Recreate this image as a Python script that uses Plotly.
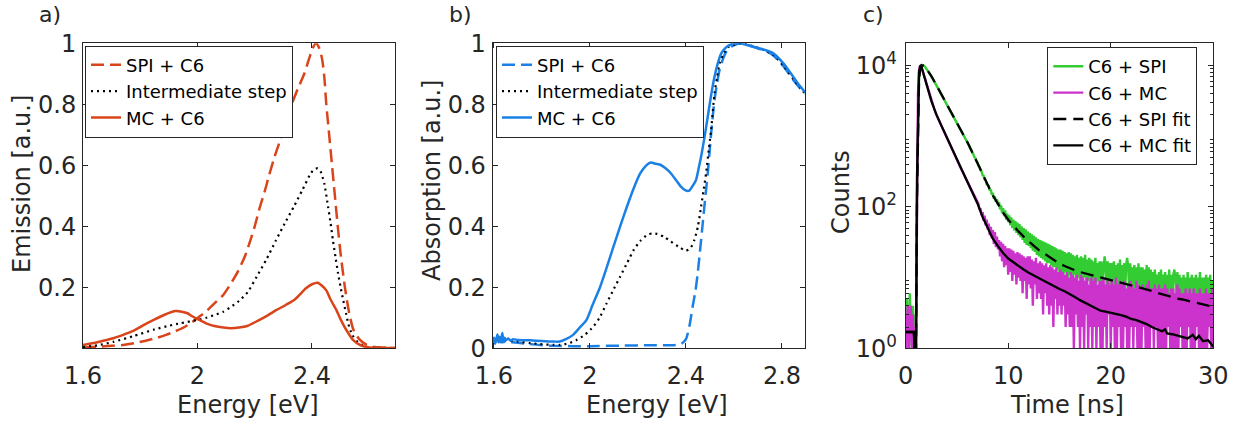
import plotly.graph_objects as go
import numpy as np

# ---------------- Panel a: emission ----------------
a_spi_E = [1.60, 1.65, 1.70, 1.74, 1.78, 1.82, 1.86, 1.89, 1.92, 1.953, 1.98, 2.0, 2.035, 2.06, 2.09,
           2.115, 2.14, 2.165, 2.185, 2.2, 2.217, 2.235, 2.251, 2.27, 2.288, 2.305, 2.325, 2.35, 2.373,
           2.39, 2.403, 2.414, 2.425, 2.435, 2.443, 2.45, 2.46, 2.47, 2.48, 2.49, 2.5, 2.515, 2.53,
           2.545, 2.565, 2.59, 2.62, 2.69]
a_spi_v = [0.003, 0.005, 0.008, 0.011, 0.017, 0.025, 0.035, 0.044, 0.055, 0.069, 0.085, 0.099, 0.125,
           0.148, 0.175, 0.21, 0.25, 0.30, 0.355, 0.40, 0.46, 0.515, 0.57, 0.63, 0.68, 0.735, 0.79, 0.85,
           0.90, 0.95, 0.985, 1.0, 0.985, 0.95, 0.89, 0.80, 0.70, 0.60, 0.50, 0.40, 0.31, 0.20, 0.115,
           0.06, 0.03, 0.012, 0.004, 0.001]

a_int_E = [1.60, 1.65, 1.706, 1.776, 1.85, 1.90, 1.94, 2.0, 2.03, 2.059, 2.09, 2.117, 2.145, 2.176,
           2.207, 2.24, 2.272, 2.305, 2.337, 2.367, 2.396, 2.41, 2.42, 2.43, 2.443, 2.456, 2.465, 2.473,
           2.482, 2.491, 2.5, 2.509, 2.52, 2.527, 2.54, 2.56, 2.58, 2.6, 2.69]
a_int_v = [0.004, 0.01, 0.021, 0.04, 0.062, 0.074, 0.082, 0.093, 0.10, 0.109, 0.12, 0.136, 0.155, 0.185,
           0.235, 0.29, 0.35, 0.41, 0.465, 0.52, 0.574, 0.588, 0.59, 0.58, 0.54, 0.465, 0.41, 0.355,
           0.30, 0.246, 0.20, 0.158, 0.11, 0.08, 0.045, 0.02, 0.008, 0.003, 0.001]

a_mc_E = [1.60, 1.65, 1.706, 1.74, 1.776, 1.81, 1.847, 1.885, 1.924, 1.945, 1.965, 1.98, 2.0, 2.03,
          2.059, 2.09, 2.117, 2.145, 2.176, 2.21, 2.247, 2.275, 2.308, 2.34, 2.379, 2.40, 2.42, 2.435,
          2.45, 2.465, 2.485, 2.50, 2.52, 2.544, 2.57, 2.6, 2.69]
a_mc_v = [0.011, 0.02, 0.033, 0.044, 0.057, 0.075, 0.093, 0.11, 0.122, 0.12, 0.115, 0.106, 0.096, 0.082,
          0.073, 0.068, 0.066, 0.068, 0.074, 0.09, 0.109, 0.125, 0.142, 0.16, 0.197, 0.21, 0.215, 0.205,
          0.19, 0.16, 0.126, 0.095, 0.06, 0.027, 0.01, 0.003, 0.001]

# ---------------- Panel b: absorption ----------------
b_mc_E = [1.595, 1.60, 1.605, 1.61, 1.615, 1.62, 1.625, 1.63, 1.635, 1.64, 1.645, 1.65, 1.66, 1.67, 1.68,
          1.70, 1.75, 1.80, 1.85, 1.874, 1.90, 1.93, 1.96, 1.986, 2.01, 2.042, 2.07, 2.098, 2.126, 2.154,
          2.18, 2.21, 2.235, 2.253, 2.275, 2.295, 2.315, 2.337, 2.36, 2.379, 2.398, 2.414, 2.43, 2.442,
          2.453, 2.463, 2.477, 2.491, 2.505, 2.519, 2.533, 2.547, 2.565, 2.583, 2.61, 2.625, 2.65, 2.694,
          2.73, 2.764, 2.806, 2.847, 2.875, 2.896]
b_mc_v = [0.02, 0.035, 0.015, 0.03, 0.045, 0.02, 0.038, 0.025, 0.05, 0.022, 0.035, 0.027, 0.032, 0.025,
          0.03, 0.027, 0.026, 0.024, 0.022, 0.022, 0.03, 0.044, 0.07, 0.093, 0.14, 0.20, 0.265, 0.333,
          0.40, 0.464, 0.52, 0.574, 0.60, 0.609, 0.605, 0.601, 0.59, 0.574, 0.55, 0.53, 0.518, 0.517,
          0.535, 0.552, 0.59, 0.628, 0.69, 0.76, 0.83, 0.89, 0.935, 0.967, 0.985, 0.995, 1.0, 1.0, 0.995,
          0.986, 0.978, 0.967, 0.934, 0.89, 0.86, 0.84]

b_int_E = [1.595, 1.62, 1.65, 1.70, 1.75, 1.79, 1.85, 1.874, 1.91, 1.944, 1.98, 2.014, 2.04, 2.07, 2.10,
           2.126, 2.155, 2.182, 2.21, 2.239, 2.26, 2.281, 2.31, 2.337, 2.37, 2.40, 2.42, 2.435, 2.45,
           2.463, 2.474, 2.484, 2.495, 2.505, 2.519, 2.53, 2.54, 2.56, 2.58, 2.60, 2.63, 2.66, 2.70,
           2.73, 2.764, 2.806, 2.847, 2.875, 2.896]
b_int_v = [0.028, 0.027, 0.026, 0.022, 0.017, 0.014, 0.011, 0.011, 0.016, 0.027, 0.045, 0.071, 0.10,
           0.148, 0.195, 0.235, 0.28, 0.322, 0.352, 0.372, 0.377, 0.375, 0.365, 0.35, 0.333, 0.32, 0.33,
           0.355, 0.40, 0.464, 0.52, 0.574, 0.65, 0.716, 0.836, 0.89, 0.934, 0.97, 0.99, 0.995, 1.0,
           0.995, 0.985, 0.977, 0.962, 0.927, 0.883, 0.855, 0.835]

b_spi_E = [1.595, 1.61, 1.63, 1.65, 1.70, 1.75, 1.80, 1.85, 1.93, 2.0, 2.14, 2.25, 2.35, 2.38, 2.40, 2.415,
           2.428, 2.44, 2.449, 2.46, 2.47, 2.48, 2.491, 2.505, 2.519, 2.53, 2.54, 2.555, 2.57, 2.59, 2.61,
           2.635, 2.66, 2.70, 2.73, 2.764, 2.806, 2.847, 2.875, 2.896]
b_spi_v = [0.02, 0.025, 0.02, 0.022, 0.018, 0.014, 0.01, 0.008, 0.007, 0.007, 0.009, 0.01, 0.01, 0.014,
           0.03, 0.075, 0.137, 0.19, 0.246, 0.33, 0.41, 0.49, 0.574, 0.705, 0.814, 0.87, 0.913, 0.95,
           0.975, 0.99, 0.997, 1.0, 0.994, 0.983, 0.976, 0.96, 0.925, 0.88, 0.853, 0.835]

# ---------------- Panel c: TCSPC decays (counts per 0.1 ns bin, t = 0 ... 30 ns) ----------------
c_time = np.round(np.arange(0, 30.0001, 0.1), 1)
c_spi_counts = [
    2, 5, 1, 3, 6, 2, 1, 4, 2, 3, 1,
    150, 2200, 6500, 8800, 9600, 9950, 10000, 9900, 9500, 9100,
    8670, 8240, 7830, 7450, 7080, 6670, 6280, 5920, 5570, 5250,
    4940, 4660, 4390, 4130, 3890, 3650, 3420, 3210, 3010, 2820,
    2650, 2500, 2355, 2220, 2090, 1960, 1840, 1720, 1615, 1510,
    1425, 1345, 1265, 1190, 1120, 1057, 995, 938, 883, 832,
    770, 731, 668, 640, 582, 556, 505, 488, 440, 425,
    380, 368, 328, 318, 281, 276, 244, 238, 209, 206,
    198, 170, 176, 149, 158, 131, 141, 118, 128, 106,
    118, 92, 105, 82, 96, 74, 89, 66, 80, 61,
    76, 55, 71, 50, 66, 46, 63, 43, 60, 40,
    57, 37, 53, 34, 50, 31, 48, 29, 45, 28,
    43, 26, 41, 24, 39, 23, 37, 21, 35, 20,
    34, 19, 33, 18, 32, 17, 31, 16, 30, 16,
    29, 15, 28, 14, 27, 14, 26, 13, 25, 12,
    25, 12, 24, 11, 23, 12, 22, 10, 23, 11,
    22, 10, 21, 11, 20, 9, 21, 10, 19, 9,
    20, 9, 19, 10, 21, 8, 18, 9, 19, 8,
    18, 8, 17, 9, 19, 8, 16, 9, 17, 7,
    17, 8, 16, 20, 15, 7, 17, 8, 16, 7,
    16, 7, 17, 8, 15, 6, 16, 7, 18, 6,
    15, 7, 16, 6, 15, 19, 14, 6, 16, 6,
    14, 6, 15, 7, 14, 5, 16, 6, 14, 5,
    14, 6, 13, 5, 15, 6, 14, 5, 13, 5,
    12, 5, 13, 6, 11, 5, 12, 4, 13, 5,
    11, 5, 12, 4, 11, 5, 13, 4, 11, 5,
    11, 13, 10, 4, 12, 5, 11, 4, 10, 4,
    11, 4, 10, 5, 12, 4, 10, 4, 11, 4,
    10, 4, 11, 4, 10, 5, 12, 4, 10, 3,
    10, 4, 11, 3, 10, 4, 11, 4, 9, 5,
]
c_mc_counts = [
    1, 3, 4, 1, 2, 4, 1, 3, 1, 2, 1,
    300, 4000, 8500, 9800, 10000, 8900, 7940, 7080, 6310, 5620,
    5010, 4470, 3980, 3550, 3160, 2880, 2630, 2400, 2190, 2000,
    1850, 1720, 1600, 1490, 1380, 1280, 1190, 1110, 1030, 955,
    887, 824, 766, 711, 661, 614, 570, 530, 492, 457,
    427, 398, 372, 347, 324, 302, 282, 263, 245, 229,
    213, 199, 185, 172, 160, 149, 139, 129, 121, 112,
    110, 92, 95, 76, 84, 64, 75, 55, 66, 48,
    58, 40, 52, 36, 47, 30, 44, 27, 38, 25,
    34, 20, 32, 17, 30, 14, 28, 15, 26, 11,
    26, 12, 25, 9, 24, 11, 22, 8, 23, 10,
    22, 9, 21, 6, 20, 9, 19, 5, 20, 8,
    20, 7, 18, 4, 17, 8, 19, 5, 16, 6,
    17, 5, 16, 3, 15, 6, 16, 4, 14, 3,
    15, 4, 14, 2, 13, 5, 14, 3, 12, 4,
    13, 3, 12, 4, 11, 2, 12, 3, 10, 2,
    12, 2, 11, 1, 10, 3, 11, 2, 9, 1,
    11, 2, 10, 1, 9, 3, 10, 1, 8, 2,
    10, 1, 9, 2, 10, 1, 8, 2, 9, 1,
    9, 1, 10, 2, 8, 1, 9, 3, 8, 1,
    9, 2, 8, 1, 10, 1, 8, 2, 9, 1,
    8, 1, 9, 2, 7, 1, 8, 1, 9, 2,
    8, 1, 7, 2, 9, 1, 8, 1, 7, 1,
    8, 2, 7, 1, 8, 1, 9, 1, 7, 2,
    7, 1, 8, 2, 7, 1, 8, 1, 7, 1,
    7, 1, 8, 1, 7, 2, 6, 1, 7, 1,
    7, 1, 6, 1, 8, 1, 7, 2, 6, 1,
    6, 1, 7, 1, 6, 2, 7, 1, 6, 1,
    7, 1, 6, 2, 6, 1, 7, 1, 6, 1,
    6, 1, 7, 1, 6, 2, 6, 1, 7, 1,
]

fit_spi_t = [0, 0.8, 0.9, 1.0, 1.1, 1.2, 1.3, 1.4, 1.5, 1.6, 1.7, 1.8, 2.0, 2.5, 3, 3.5, 4, 4.5, 5, 5.5,
             6, 6.5, 7, 7.5, 8, 8.5, 9, 9.5, 10, 10.5, 11, 11.5, 12, 12.5, 13, 13.5, 14, 14.5, 15, 15.5,
             16, 16.5, 17, 17.5, 18, 18.5, 19, 19.5, 20, 20.5, 21, 21.5, 22, 22.5, 23, 23.5, 24, 24.5,
             25, 25.5, 26, 26.5, 27, 27.5, 28, 28.5, 29, 29.5, 30]
fit_spi_v = [1.7, 1.7, 0.5, 0.5, 120, 2000, 6000, 8700, 9600, 9950, 10000, 9900, 9100, 7080, 5250, 3890,
             2820, 2090, 1510, 1120, 832, 589, 417, 288, 200, 145, 110, 83, 66, 54, 45, 38, 32.4, 28.2,
             24.5, 21.9, 19.5, 17.6, 15.8, 14.6, 13.5, 12.7, 12.0, 11.5, 11.0, 10.5, 10.0, 9.5, 9.1, 8.8,
             8.5, 8.1, 7.8, 7.5, 7.2, 6.8, 6.5, 6.1, 5.8, 5.5, 5.2, 5.05, 4.9, 4.7, 4.5, 4.3, 4.2, 4.0, 3.9]

fit_mc_t = [0, 0.8, 0.9, 1.0, 1.1, 1.2, 1.3, 1.4, 1.5, 1.6, 1.7, 1.8, 2.0, 2.5, 3, 3.5, 4, 4.5, 5, 5.5,
            6, 6.5, 7, 7.5, 8, 8.5, 9, 9.5, 10, 10.5, 11, 11.5, 12, 12.5, 13, 13.5, 14, 14.5, 15, 15.5,
            16, 16.5, 17, 17.5, 18, 18.5, 19, 19.5, 20, 20.5, 21, 21.5, 22, 22.5, 23, 23.5, 24, 24.5,
            25, 25.3, 25.5, 26, 26.5, 27, 27.5, 28, 28.3, 28.6, 29, 29.5, 30]
fit_mc_v = [1.7, 1.7, 0.5, 0.5, 250, 3500, 8000, 9700, 10000, 8900, 7940, 7080, 5620, 3160, 2000, 1380,
            955, 661, 457, 324, 229, 160, 112, 72, 50, 35.5, 27.9, 22.3, 18.6, 16.4, 14.5, 13.0, 11.7,
            10.7, 9.8, 8.9, 8.1, 7.5, 6.9, 6.4, 5.9, 5.3, 4.8, 4.4, 4.0, 3.7, 3.4, 3.3, 3.2, 3.05, 2.95,
            2.8, 2.6, 2.5, 2.35, 2.2, 2.0, 1.85, 1.74, 1.85, 1.62, 1.58, 1.5, 1.45, 1.38, 1.55, 1.35,
            1.5, 1.26, 1.3, 1.05]

# ---------------- styling ----------------
RED = "#D9441A"
BLUE = "#1A80E6"
GREEN = "#33CC33"
MAGENTA = "#CC33CC"
AX = "#262626"
FONT = "DejaVu Sans"
W, H = 1243, 423

fig = go.Figure()

def add(x, y, name, color, dash, xa, ya, legend, width=2.5, shape="spline"):
    fig.add_trace(go.Scatter(x=x, y=y, name=name, mode="lines", xaxis=xa, yaxis=ya, legend=legend,
                             line=dict(color=color, width=width, dash=dash, shape=shape,
                                       smoothing=0.6 if shape == "spline" else None)))

add(a_spi_E, a_spi_v, "SPI + C6", RED, "13px,6px", "x", "y", "legend")
add(a_int_E, a_int_v, "Intermediate step", "black", "2px,4px", "x", "y", "legend", width=2.2)
add(a_mc_E, a_mc_v, "MC + C6", RED, "solid", "x", "y", "legend")

add(b_spi_E, b_spi_v, "SPI + C6", BLUE, "13px,6px", "x2", "y2", "legend2")
add(b_int_E, b_int_v, "Intermediate step", "black", "2px,4px", "x2", "y2", "legend2", width=2.2)
add(b_mc_E, b_mc_v, "MC + C6", BLUE, "solid", "x2", "y2", "legend2")

add(c_time, c_spi_counts, "C6 + SPI", GREEN, "solid", "x3", "y3", "legend3", width=2.4, shape="linear")
add(c_time, c_mc_counts, "C6 + MC", MAGENTA, "solid", "x3", "y3", "legend3", width=2.4, shape="linear")
add(fit_spi_t, fit_spi_v, "C6 + SPI fit", "black", "13px,7px", "x3", "y3", "legend3", width=2.3, shape="linear")
add(fit_mc_t, fit_mc_v, "C6 + MC fit", "black", "solid", "x3", "y3", "legend3", width=2.3, shape="linear")

def px_x(p):
    return p / W

def px_y(p):
    return (H - p) / H

top, bot = 43.3, 348.3
dom_y = [px_y(bot), px_y(top)]
axis_common = dict(showline=True, linecolor=AX, linewidth=1, mirror="ticks", ticks="inside",
                   ticklen=5, tickcolor=AX, tickwidth=1, showgrid=False, zeroline=False,
                   automargin=False, tickfont=dict(family=FONT, size=24, color=AX))

fig.update_layout(
    template="none",
    width=W, height=H, margin=dict(l=0, r=0, t=0, b=0, pad=0), autosize=False,
    paper_bgcolor="white", plot_bgcolor="white", showlegend=True,
    xaxis=dict(domain=[px_x(83), px_x(395)], range=[1.6, 2.69], tickvals=[1.6, 2.0, 2.4],
               ticktext=["1.6", "2", "2.4"], anchor="y", ticklabelstandoff=6, **axis_common),
    yaxis=dict(domain=dom_y, range=[0, 1], tickvals=[0.2, 0.4, 0.6, 0.8, 1.0],
               ticktext=["0.2", "0.4", "0.6", "0.8", "1"], anchor="x", ticklabelstandoff=1, **axis_common),
    xaxis2=dict(domain=[px_x(492.7), px_x(805)], range=[1.595, 2.896], tickvals=[1.6, 2.0, 2.4, 2.8],
                ticktext=["1.6", "2", "2.4", "2.8"], anchor="y2", ticklabelstandoff=6, **axis_common),
    yaxis2=dict(domain=dom_y, range=[0, 1], tickvals=[0, 0.2, 0.4, 0.6, 0.8, 1.0],
                ticktext=["0", "0.2", "0.4", "0.6", "0.8", "1"], anchor="x2", ticklabelstandoff=1,
                **axis_common),
    xaxis3=dict(domain=[px_x(905.7), px_x(1213.3)], range=[0, 30], tickvals=[0, 10, 20, 30],
                anchor="y3", ticklabelstandoff=6, **axis_common),
    yaxis3=dict(domain=dom_y, type="log", range=[0, 4.314], tickvals=[1, 100, 10000],
                ticktext=["10<sup>0</sup>", "10<sup>2</sup>", "10<sup>4</sup>"], anchor="x3",
                ticklabelstandoff=3,
                minor=dict(ticks="inside", ticklen=3, tickcolor=AX,
                           tickvals=[2, 3, 4, 5, 6, 7, 8, 9, 20, 30, 40, 50, 60, 70, 80, 90,
                                     200, 300, 400, 500, 600, 700, 800, 900,
                                     2000, 3000, 4000, 5000, 6000, 7000, 8000, 9000, 20000]),
                **axis_common),
)

leg_common = dict(font=dict(family=FONT, size=18, color="black"), bgcolor="white",
                  bordercolor=AX, borderwidth=1, xanchor="left", yanchor="top",
                  tracegroupgap=0, itemwidth=30)
fig.update_layout(
    legend=dict(x=px_x(85), y=px_y(45.5), **leg_common),
    legend2=dict(x=px_x(496), y=px_y(45.5), **leg_common),
    legend3=dict(x=px_x(1047.3), y=px_y(47), **leg_common),
)

ann = []
def text(x, y, s, size=24, angle=0):
    ann.append(dict(x=px_x(x), y=px_y(y), xref="paper", yref="paper", text=s, showarrow=False,
                    xanchor="center", yanchor="middle", textangle=angle,
                    font=dict(family=FONT, size=size, color=AX)))

text(50, 14, "a)", 22)
text(460, 14, "b)", 22)
text(873, 14, "c)", 22)
text(248, 405, "Energy [eV]")
text(657, 405, "Energy [eV]")
text(1067, 405, "Time [ns]")
text(22, 184, "Emission [a.u.]", angle=-90)
text(432, 181, "Absorption [a.u.]", angle=-90)
text(841, 192, "Counts", angle=-90)
fig.update_layout(annotations=ann)

fig.write_html("out.html")
